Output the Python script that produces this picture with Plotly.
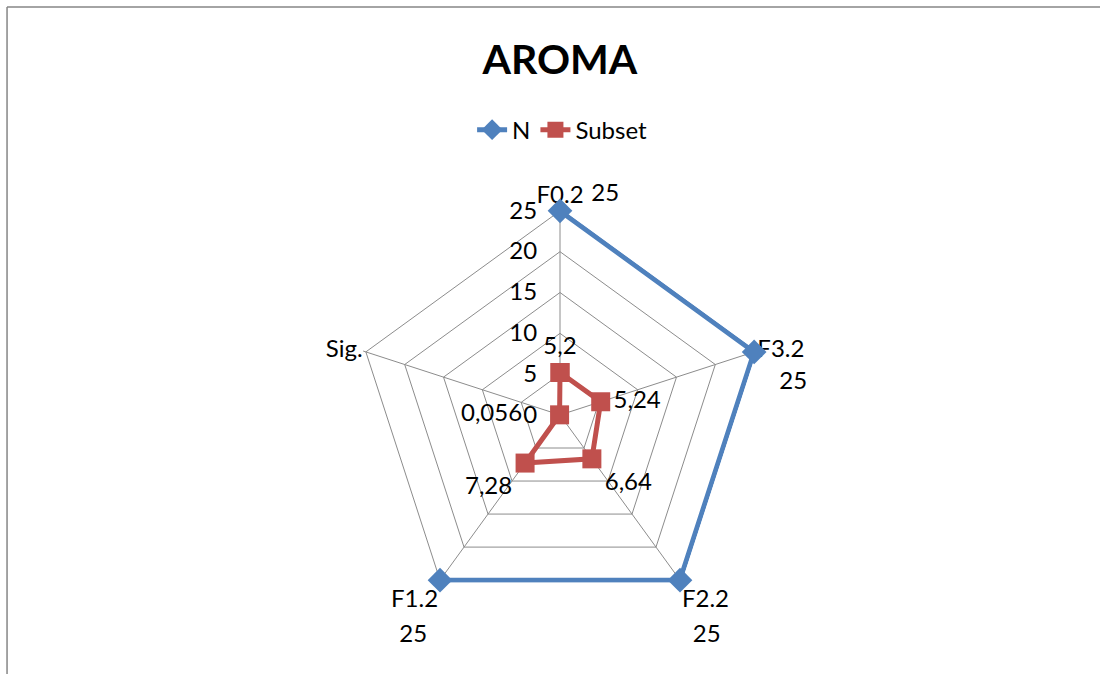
import plotly.graph_objects as go

# Sensory profile: aroma attributes
categories = ["F0.2", "F3.2", "F2.2", "F1.2", "Sig."]
n_values = [25, 25, 25, 25, None]
subset_values = [5.2, 5.24, 6.64, 7.28, 0.056]
radial_ticks = [0, 5, 10, 15, 20, 25]
radial_max = 25.35  # a little headroom so the outer line is not clipped

BLUE = "#4F81BD"
RED = "#C0504D"
GRID = "#8C8C8C"
FONT = "Lato, Carlito, Calibri, sans-serif"
SP = "&nbsp;"


def fmt(v):
    return "" if v is None else f"{v:g}".replace(".", ",")


# value labels, nudged so they sit clear of the category names
n_text = [
    SP * 3 + fmt(n_values[0]) + "<br>" + SP,
    "<br><br>" + SP * 2 + fmt(n_values[1]),
    "<br>" + fmt(n_values[2]),
    "<br>" + fmt(n_values[3]),
    "",
]
sub_text = [
    fmt(subset_values[0]),
    fmt(subset_values[1]),
    fmt(subset_values[2]),
    fmt(subset_values[3]),
    fmt(subset_values[4]) + SP * 4,
    "",
]

fig = go.Figure()

# N series: open path, no value for Sig.
fig.add_trace(go.Scatterpolar(
    r=n_values,
    theta=categories,
    name="N",
    mode="lines+markers+text",
    text=n_text,
    textposition=["middle right", "middle right", "bottom right", "bottom left", "middle left"],
    textfont=dict(size=24, color="black", family=FONT),
    line=dict(color=BLUE, width=5),
    marker=dict(symbol="diamond", size=19, color=BLUE),
    connectgaps=False,
    cliponaxis=False,
))

# Subset series: closed loop
fig.add_trace(go.Scatterpolar(
    r=subset_values + subset_values[:1],
    theta=categories + categories[:1],
    name="Subset",
    mode="lines+markers+text",
    text=sub_text,
    textposition=["top center", "middle right", "bottom right", "bottom left", "middle left", "top center"],
    textfont=dict(size=24, color="black", family=FONT),
    line=dict(color=RED, width=5),
    marker=dict(symbol="square", size=19, color=RED),
    cliponaxis=False,
))

fig.update_layout(
    width=1100,
    height=674,
    margin=dict(l=0, r=0, t=0, b=0),
    paper_bgcolor="white",
    plot_bgcolor="white",
    font=dict(family=FONT, size=24, color="black"),
    title=dict(
        text="<b>AROMA</b>",
        x=0.509, xanchor="center",
        y=0.911, yanchor="middle",
        font=dict(size=41, family=FONT, color="black"),
    ),
    legend=dict(
        orientation="h",
        x=0.511, xanchor="center",
        y=0.807, yanchor="middle",
        font=dict(size=24, family=FONT, color="black"),
        bgcolor="rgba(0,0,0,0)",
    ),
    polar=dict(
        domain=dict(x=[0.3209, 0.6973], y=[0.0772, 0.6914]),
        gridshape="linear",
        bgcolor="white",
        radialaxis=dict(
            range=[0, radial_max],
            tickvals=radial_ticks,
            ticktext=[str(t) for t in radial_ticks],
            angle=90,
            tickangle=90,
            side="counterclockwise",
            showline=False,
            gridcolor=GRID,
            gridwidth=1,
            ticks="outside",
            ticklen=14,
            tickcolor="rgba(0,0,0,0)",
            tickfont=dict(size=24, family=FONT, color="black"),
            layer="below traces",
        ),
        angularaxis=dict(
            direction="clockwise",
            rotation=90,
            showline=False,
            gridcolor=GRID,
            gridwidth=1,
            ticks="",
            tickfont=dict(size=24, family=FONT, color="black"),
            layer="below traces",
        ),
    ),
    shapes=[
        dict(type="line", xref="paper", yref="paper", x0=0.0064, x1=1.0, y0=0.9896, y1=0.9896,
             line=dict(color="#868686", width=1.5)),
        dict(type="line", xref="paper", yref="paper", x0=0.0064, x1=0.0064, y0=0.0, y1=0.9896,
             line=dict(color="#868686", width=1.5)),
    ],
)

fig.write_html("out.html")
